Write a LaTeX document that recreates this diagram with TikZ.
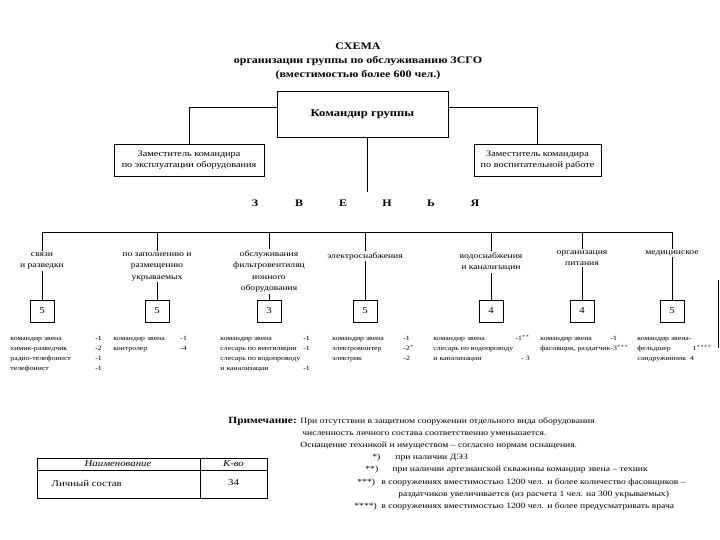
\documentclass[tikz,border=0pt]{standalone}
\usepackage{fontspec}
\usepackage{array}
\setmainfont{Liberation Serif}[FakeStretch=1.2]
\usetikzlibrary{positioning}
\newcolumntype{W}[1]{>{\hbox to #1\bgroup}l<{\hfil\egroup}}

\begin{document}
\begin{tikzpicture}[x=1pt,y=-1pt,line width=.8pt,
  boss/.style={draw,align=center,inner sep=0pt},
  numbox/.style={draw,minimum width=24pt,minimum height=22pt,inner sep=0pt,font=\fontsize{9}{10}\selectfont},
  unit/.style={anchor=north,align=center,inner sep=1pt,font=\fontsize{8}{11.5}\selectfont},
  staff/.style={anchor=north west,inner sep=0pt,font=\fontsize{6.5}{10}\selectfont},
  note/.style={anchor=base west,inner sep=0pt,font=\fontsize{8}{10}\selectfont},
  zv/.style={font=\fontsize{10}{12}\selectfont\bfseries}]
\useasboundingbox (0,0) rectangle (720,540);

% заголовок
\node[align=center,font=\fontsize{10}{14}\selectfont\bfseries] (title) at (358,61)
  {СХЕМА\\организации группы по обслуживанию ЗСГО\\(вместимостью более 600 чел.)};

% руководство
\node[boss,minimum width=171pt,minimum height=46pt,font=\fontsize{10.5}{12}\selectfont\bfseries] (cmd) at (362.5,114) {Командир группы};
\node[boss,minimum width=150pt,minimum height=32pt,font=\fontsize{8.5}{11}\selectfont] (depL) at (189,160)
  {Заместитель командира\\по эксплуатации оборудования};
\node[boss,minimum width=127pt,minimum height=32pt,font=\fontsize{8.5}{11}\selectfont] (depR) at (537.5,160)
  {Заместитель командира\\по воспитательной работе};
\draw ([yshift=7pt]cmd.west) -| (depL.north);
\draw ([yshift=7pt]cmd.east) -| (depR.north);
\coordinate (cEnd) at (367,192);
\draw (cEnd |- cmd.south) -- (cEnd);

% звенья
\foreach \l [count=\i] in {З,В,Е,Н,Ь,Я}
  \node[zv] (zv\i) at (211+44*\i,203) {\l};

\foreach \x [count=\i] in {42,157,269,365,491,582,672}
  \coordinate (b\i) at (\x,232);
\draw (b1) -- (b7);

\node[unit] (u1) at (42,251) {связи\\и разведки};
\node[unit] (u2) at (157,251) {по заполнению и\\размещению\\укрываемых};
\node[unit] (u3) at (269,249) {обслуживания\\фильтровентиляц\\ионного\\оборудования};
\node[unit] (u4) at (365,251) {электроснабжения};
\node[unit] (u5) at (491,251) {водоснабжения\\и канализации};
\node[unit] (u6) at (582,249) {организация\\питания};
\node[unit] (u7) at (672,249) {медицинское};

\foreach \k [count=\i] in {5,5,3,5,4,4,5}
  \node[numbox] (n\i) at (b\i |- 0,311) {\k};

\foreach \i in {1,...,7}{
  \draw (b\i) -- (u\i.north);
  \draw (u\i.south) -- (n\i.north);
}

% составы звеньев
\node[staff] (s1) at (10,333) {\begin{tabular}{@{}W{85pt}@{}l@{}}
  командир звена & -1\\ химик-разведчик & -2\\ радио-телефонист & -1\\ телефонист & -1\end{tabular}};
\node[staff] (s2) at (113,333) {\begin{tabular}{@{}W{67pt}@{}l@{}}
  командир звена & -1\\ контролер & -4\end{tabular}};
\node[staff] (s3) at (220,333) {\begin{tabular}{@{}W{83pt}@{}l@{}}
  командир звена & -1\\ слесарь по вентиляции & -1\\ слесарь по водопроводу & \\ и канализации & -1\end{tabular}};
\node[staff] (s4) at (332,333) {\begin{tabular}{@{}W{71pt}@{}l@{}}
  командир звена & -1\\ электромонтер & -2$^{*}$\\ электрик & -2\end{tabular}};
\node[staff] (s5) at (433,333) {\begin{tabular}{@{}W{82pt}@{}l@{}}
  командир звена & -1$^{**}$\\ слесарь по водопроводу & \\ и канализации & \hspace{6pt}- 3\end{tabular}};
\node[staff] (s6) at (540,333) {\begin{tabular}{@{}W{70pt}@{}l@{}}
  командир звена & -1\\ фасовщик, раздатчик & -3$^{***}$\end{tabular}};
\node[staff] (s7) at (637,333) {\begin{tabular}{@{}l@{}}
  командир звена-\\ фельдшер\hspace{22pt}1$^{****}$\\ сандружинник\hspace{4pt}4\end{tabular}};
\draw (718,280) -- (718,348);

% примечание
\node[anchor=base west,inner sep=0pt,font=\fontsize{9.5}{12}\selectfont\bfseries] (prim) at (228,423) {Примечание:};
\node[note] (t1) at (300,423) {При отсутствии в защитном сооружении отдельного вида оборудования};
\node[note] (t2) at (302,435) {численность личного состава соответственно уменьшается.};
\node[note] (t3) at (300,447) {Оснащение техникой и имуществом – согласно нормам оснащения.};
\node[note] (m1) at (372,459) {*)};
\node[note] (t4) at (395,459) {при наличии ДЭЗ};
\node[note] (m2) at (365,471) {**)};
\node[note] (t5) at (392,471) {при наличии артезианской скважины командир звена – техник};
\node[note] (m3) at (357,484) {***)};
\node[note] (t6) at (381,484) {в сооружениях вместимостью 1200 чел. и более количество фасовщиков –};
\node[note] (t7) at (398,496) {раздатчиков увеличивается (из расчета 1 чел. на 300 укрываемых)};
\node[note] (m4) at (354,508) {****)};
\node[note] (t8) at (381,508) {в сооружениях вместимостью 1200 чел. и более предусматривать врача};

% таблица
\draw (37,458) rectangle (267,498);
\draw (37,470) -- (267,470);
\draw (200,458) -- (200,498);
\node[font=\fontsize{9}{10}\selectfont\itshape] (hName) at (118,464) {Наименование};
\node[font=\fontsize{9}{10}\selectfont\itshape] (hQty) at (233.5,464) {К-во};
\node[anchor=west,font=\fontsize{9}{10}\selectfont] (rName) at (48,483) {Личный состав};
\node[font=\fontsize{9}{10}\selectfont] (rQty) at (233.5,483) {34};
\end{tikzpicture}
\end{document}
